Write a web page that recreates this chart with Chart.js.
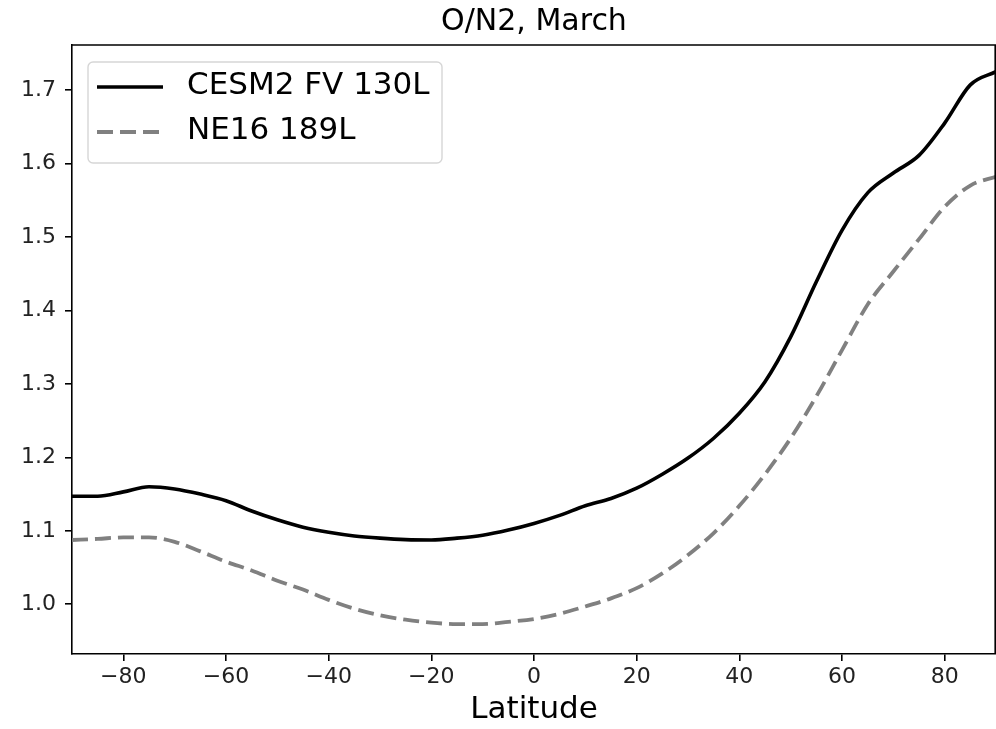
<!DOCTYPE html>
<html><head><meta charset="utf-8">
<script src="https://cdn.jsdelivr.net/npm/chart.js@4.4.0/dist/chart.umd.min.js"></script>
<style>html,body{margin:0;padding:0;background:#fff}#wrap{width:996px;height:729px;position:relative}</style>
</head><body><div id="wrap"><canvas id="c"></canvas></div>
<script>
const latitudes = [-90,-85,-80,-75,-70,-65,-60,-55,-50,-45,-40,-35,-30,-25,-20,-15,-10,-5,0,5,10,15,20,25,30,35,40,45,50,55,60,65,70,75,80,85,90];
const cesm2FV130L = [1.147,1.147,1.153,1.160,1.157,1.150,1.141,1.127,1.115,1.105,1.098,1.093,1.090,1.088,1.0875,1.090,1.094,1.101,1.110,1.121,1.134,1.144,1.158,1.177,1.199,1.226,1.260,1.303,1.364,1.439,1.509,1.560,1.587,1.611,1.655,1.707,1.725];
const ne16_189L = [1.0875,1.089,1.091,1.091,1.085,1.072,1.058,1.046,1.032,1.020,1.006,0.994,0.985,0.979,0.975,0.973,0.973,0.976,0.980,0.987,0.997,1.008,1.022,1.042,1.067,1.097,1.134,1.177,1.226,1.283,1.346,1.408,1.453,1.497,1.541,1.570,1.582];
const seriesLabels = ['CESM2 FV 130L', 'NE16 189L'];
const xTickValues = [-80,-60,-40,-20,0,20,40,60,80];
const yTickValues = [1.0,1.1,1.2,1.3,1.4,1.5,1.6,1.7];
const titleText = 'O/N2, March';
const xAxisLabel = 'Latitude';

const FONT = 'DejaVu Sans';
const toPts = vals => latitudes.map((x, i) => ({x, y: vals[i]}));

const framePlugin = {
  id: 'frame',
  afterDraw(chart) {
    const {ctx, chartArea: ca} = chart;
    ctx.save();
    ctx.strokeStyle = '#000';
    ctx.lineWidth = 1.6;
    ctx.beginPath();
    ctx.moveTo(ca.left, ca.top);
    ctx.lineTo(ca.right - 0.8, ca.top);
    ctx.lineTo(ca.right - 0.8, ca.bottom);
    ctx.stroke();
    // legend
    const x0 = ca.left + 16, y0 = ca.top + 17, w = 354, h = 101, r = 5;
    ctx.beginPath();
    ctx.moveTo(x0 + r, y0);
    ctx.arcTo(x0 + w, y0, x0 + w, y0 + h, r);
    ctx.arcTo(x0 + w, y0 + h, x0, y0 + h, r);
    ctx.arcTo(x0, y0 + h, x0, y0, r);
    ctx.arcTo(x0, y0, x0 + w, y0, r);
    ctx.closePath();
    ctx.fillStyle = 'rgba(255,255,255,0.8)';
    ctx.fill();
    ctx.strokeStyle = '#d6d6d6';
    ctx.lineWidth = 1.4;
    ctx.stroke();
    chart.data.datasets.forEach((ds, i) => {
      const yy = y0 + 25 + i * 45;
      ctx.beginPath();
      ctx.setLineDash(ds.borderDash || []);
      ctx.strokeStyle = ds.borderColor;
      ctx.lineWidth = ds.borderWidth;
      ctx.moveTo(x0 + 9, yy);
      ctx.lineTo(x0 + 75, yy);
      ctx.stroke();
      ctx.setLineDash([]);
      ctx.fillStyle = '#000';
      ctx.font = '31px "' + FONT + '"';
      ctx.textBaseline = 'middle';
      ctx.textAlign = 'left';
      ctx.fillText(ds.label, x0 + 99, yy - 1);
    });
    ctx.restore();
  }
};

new Chart(document.getElementById('c'), {
  type: 'line',
  data: {
    datasets: [
      {label: seriesLabels[0], data: toPts(cesm2FV130L), borderColor: '#000', borderWidth: 3.6, pointRadius: 0, cubicInterpolationMode: 'monotone', fill: false},
      {label: seriesLabels[1], data: toPts(ne16_189L), borderColor: '#808080', borderWidth: 3.8, borderDash: [16, 7], pointRadius: 0, cubicInterpolationMode: 'monotone', fill: false}
    ]
  },
  options: {
    responsive: true,
    maintainAspectRatio: false,
    animation: false,
    layout: {padding: 0},
    plugins: {
      legend: {display: false},
      tooltip: {enabled: false},
      title: {
        display: true, text: titleText, fullSize: false, color: '#000',
        font: {family: FONT, size: 30, weight: 'normal'},
        padding: {top: 4, bottom: 5}
      }
    },
    scales: {
      x: {
        type: 'linear', min: -90, max: 90,
        afterBuildTicks: ax => { ax.ticks = xTickValues.map(v => ({value: v})); },
        afterFit: ax => { ax.height = 75; },
        ticks: {color: '#222', font: {family: FONT, size: 22}, padding: 3, maxRotation: 0,
          callback: v => v < 0 ? '\u2212' + Math.abs(v) : String(v)},
        grid: {display: true, drawOnChartArea: false, drawTicks: true, tickLength: 7, color: '#000', lineWidth: 1.6},
        border: {display: true, color: '#000', width: 1.6},
        title: {display: true, text: xAxisLabel, color: '#000', font: {family: FONT, size: 31}, padding: {top: 0, bottom: 0}}
      },
      y: {
        type: 'linear', min: 0.9323, max: 1.7613,
        afterBuildTicks: ax => { ax.ticks = yTickValues.map(v => ({value: v})); },
        afterFit: ax => { ax.width = 72; },
        ticks: {color: '#222', font: {family: FONT, size: 22}, padding: 9,
          callback: v => Number(v).toFixed(1)},
        grid: {display: true, drawOnChartArea: false, drawTicks: true, tickLength: 7, color: '#000', lineWidth: 1.6},
        border: {display: true, color: '#000', width: 1.6}
      }
    }
  },
  plugins: [framePlugin]
});
</script>
</body></html>
